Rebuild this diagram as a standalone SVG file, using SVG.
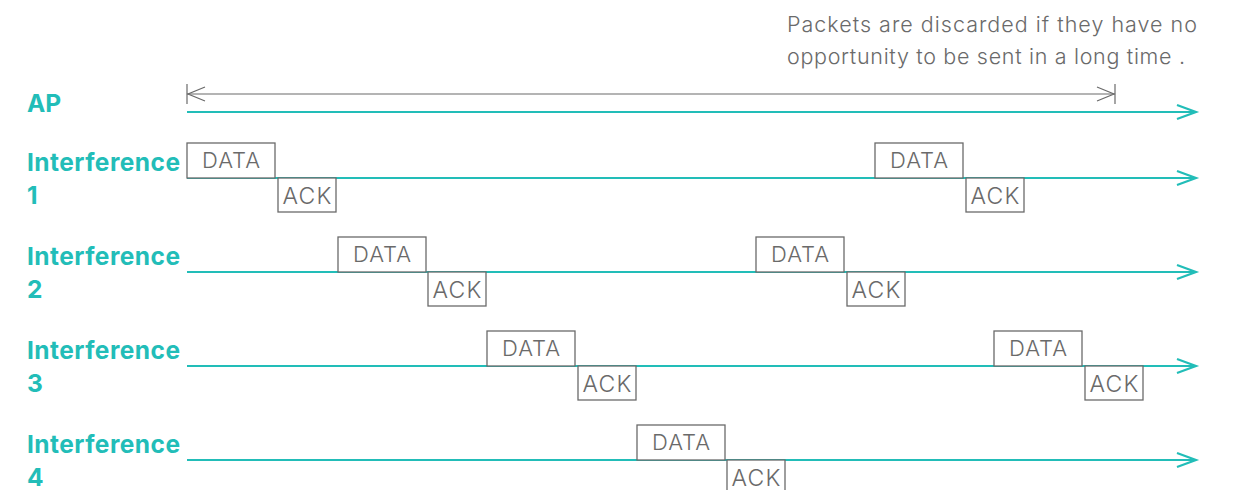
<svg xmlns="http://www.w3.org/2000/svg" width="1236" height="490" viewBox="0 0 1236 490">
<style>
.lbl{font-family:Inter,"Noto Sans","Liberation Sans",sans-serif;font-weight:700;font-size:24.5px;fill:#22bdb8}
.note{font-family:Inter,"Liberation Sans",sans-serif;font-weight:300;font-size:21.5px;fill:#6a6a6a}
.box{fill:#fff;stroke:#6a6a6a;stroke-width:1.3}
.bt{font-family:Inter,"Liberation Sans",sans-serif;font-weight:300;font-size:22px;fill:#6a6a6a;text-anchor:middle}
.ak{font-family:Inter,"Liberation Sans",sans-serif;font-weight:300;font-size:23px;fill:#6a6a6a;text-anchor:middle}
.tl{stroke:#22bdb8;stroke-width:2.2;fill:none}
.ah{stroke:#22bdb8;stroke-width:2.2;fill:none}
.dim{stroke:#6a6a6a;stroke-width:1.2;fill:none}
</style>
<g id="note">
<text class="note" x="787" y="32" textLength="410">Packets are discarded if they have no</text>
<text class="note" x="787" y="64" textLength="398">opportunity to be sent in a long time .</text>
</g>
<g id="connectors">
<line class="dim" x1="187" y1="94" x2="1115" y2="94"/>
<line class="dim" x1="187" y1="84" x2="187" y2="104"/>
<line class="dim" x1="1115" y1="84" x2="1115" y2="104"/>
<polyline class="dim" points="205,87 188,94 205,101"/>
<polyline class="dim" points="1097,87 1114,94 1097,101"/>
<line class="tl" x1="187" y1="112" x2="1196" y2="112"/>
<polyline class="ah" points="1177,105 1196,112 1177,119"/>
<line class="tl" x1="187" y1="178" x2="1196" y2="178"/>
<polyline class="ah" points="1177,171 1196,178 1177,185"/>
<line class="tl" x1="187" y1="272" x2="1196" y2="272"/>
<polyline class="ah" points="1177,265 1196,272 1177,279"/>
<line class="tl" x1="187" y1="366" x2="1196" y2="366"/>
<polyline class="ah" points="1177,359 1196,366 1177,373"/>
<line class="tl" x1="187" y1="460" x2="1196" y2="460"/>
<polyline class="ah" points="1177,453 1196,460 1177,467"/>
</g>
<g id="ap"><text class="lbl" x="27" y="112">AP</text></g>
<g id="int1">
<text class="lbl" x="27" y="171" textLength="153">Interference</text><text class="lbl" x="27" y="204">1</text>
<rect class="box" x="187" y="143" width="88" height="35"/><text class="bt" x="231" y="168" textLength="58">DATA</text>
<rect class="box" x="278" y="178" width="58" height="34"/><text class="ak" x="307" y="204" textLength="49">ACK</text>
<rect class="box" x="875" y="143" width="88" height="35"/><text class="bt" x="919" y="168" textLength="58">DATA</text>
<rect class="box" x="966" y="178" width="58" height="34"/><text class="ak" x="995" y="204" textLength="49">ACK</text>
</g>
<g id="int2">
<text class="lbl" x="27" y="265" textLength="153">Interference</text><text class="lbl" x="27" y="298">2</text>
<rect class="box" x="338" y="237" width="88" height="35"/><text class="bt" x="382" y="262" textLength="58">DATA</text>
<rect class="box" x="428" y="272" width="58" height="34"/><text class="ak" x="457" y="298" textLength="49">ACK</text>
<rect class="box" x="756" y="237" width="88" height="35"/><text class="bt" x="800" y="262" textLength="58">DATA</text>
<rect class="box" x="847" y="272" width="58" height="34"/><text class="ak" x="876" y="298" textLength="49">ACK</text>
</g>
<g id="int3">
<text class="lbl" x="27" y="359" textLength="153">Interference</text><text class="lbl" x="27" y="392">3</text>
<rect class="box" x="487" y="331" width="88" height="35"/><text class="bt" x="531" y="356" textLength="58">DATA</text>
<rect class="box" x="578" y="366" width="58" height="34"/><text class="ak" x="607" y="392" textLength="49">ACK</text>
<rect class="box" x="994" y="331" width="88" height="35"/><text class="bt" x="1038" y="356" textLength="58">DATA</text>
<rect class="box" x="1085" y="366" width="58" height="34"/><text class="ak" x="1114" y="392" textLength="49">ACK</text>
</g>
<g id="int4">
<text class="lbl" x="27" y="453" textLength="153">Interference</text><text class="lbl" x="27" y="486">4</text>
<rect class="box" x="637" y="425" width="88" height="35"/><text class="bt" x="681" y="450" textLength="58">DATA</text>
<rect class="box" x="727" y="460" width="58" height="34"/><text class="ak" x="756" y="486" textLength="49">ACK</text>
</g>
</svg>
